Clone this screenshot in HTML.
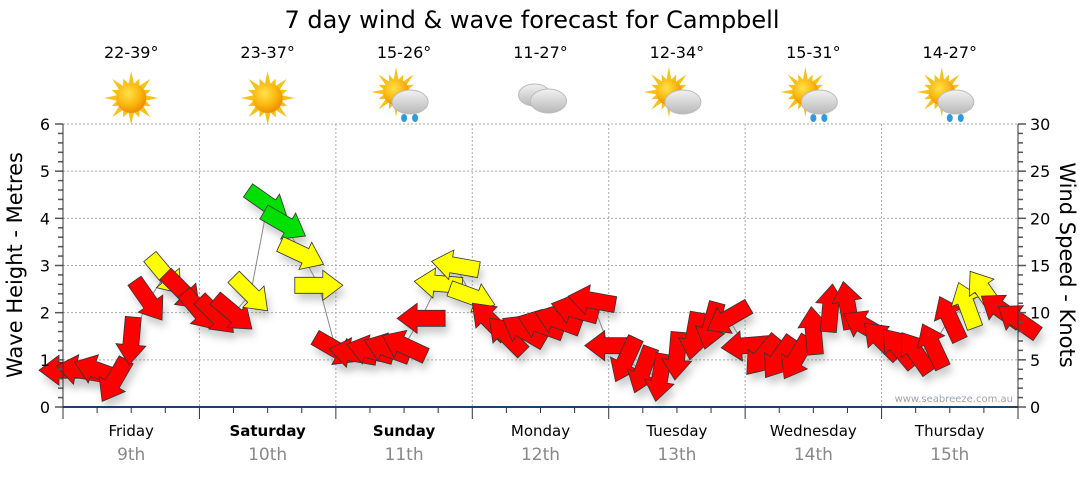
<!DOCTYPE html>
<html><head><meta charset="utf-8">
<style>
body{margin:0;background:#fff;width:1080px;height:475px;overflow:hidden;font-family:"Liberation Sans",sans-serif;}
svg text{font-family:"DejaVu Sans","Liberation Sans",sans-serif;}
</style></head>
<body>
<svg id="chart" width="1080" height="475" xmlns="http://www.w3.org/2000/svg">
<defs>
<radialGradient id="sunG" cx="40%" cy="35%" r="65%"><stop offset="0" stop-color="#ffe24a"/><stop offset="0.6" stop-color="#fbb80f"/><stop offset="1" stop-color="#f08c00"/></radialGradient>
<linearGradient id="cloudG" x1="0" y1="0" x2="0" y2="1"><stop offset="0" stop-color="#f2f2f2"/><stop offset="1" stop-color="#b8b8b8"/></linearGradient>
<filter id="sh" x="-50%" y="-50%" width="200%" height="200%"><feGaussianBlur stdDeviation="4"/></filter>
</defs>
<text x="532" y="28" font-size="24" text-anchor="middle" fill="#000">7 day wind &amp; wave forecast for Campbell</text>
<g id="grid"></g>
<g id="icons"></g>
<g id="shadows" opacity="0.3"></g>
<g id="series"></g>
<g id="axes"></g>
<text transform="translate(22,265) rotate(-90)" font-size="21" text-anchor="middle">Wave Height - Metres</text>
<text transform="translate(1060,265) rotate(90)" font-size="21" text-anchor="middle">Wind Speed - Knots</text>
<text x="1013" y="402" font-size="10" fill="#9aa3b5" text-anchor="end">www.seabreeze.com.au</text>
</svg>
<script>
const days=["Friday","Saturday","Sunday","Monday","Tuesday","Wednesday","Thursday"];
const dates=["9th","10th","11th","12th","13th","14th","15th"];
const boldDays=[false,true,true,false,false,false,false];
const temps=["22-39°","23-37°","15-26°","11-27°","12-34°","15-31°","14-27°"];
const weather=["sun","sun","sunrain","cloud","suncloud","sunrain","sunrain"];
const waveTicks=[0,1,2,3,4,5,6];
const windTicks=[0,5,10,15,20,25,30];
const hours=[0,3,6,9,12,15,18,21,24,27,30,33,36,39,42,45,48,51,54,57,60,63,66,69,72,75,78,81,84,87,90,93,96,99,102,105,108,111,114,117,120,123,126,129,132,135,138,141,144,147,150,153,156,159,162,165,168];
const windKnots=[3.9,3.9,3.9,2.8,7.0,11.3,14.0,12.3,10.2,9.7,9.9,12.0,21.5,19.4,16.2,12.9,6.1,5.7,6.0,6.2,6.5,9.4,13.1,15.0,11.7,9.2,7.6,8.1,8.7,9.2,10.3,11.3,6.5,5.0,3.9,3.1,5.4,7.5,8.6,9.4,6.5,5.4,5.2,5.2,8.1,10.5,10.8,8.6,7.1,6.3,5.8,6.5,9.4,10.8,12.3,10.3,9.2];
const windDir=[180,190,200,120,95,55,50,45,50,45,40,45,35,30,25,0,30,190,195,200,205,180,185,190,20,225,225,210,200,200,195,190,180,115,110,100,95,100,105,150,175,130,125,120,265,275,260,210,225,230,235,245,245,250,235,215,215];
const windCol=["r","r","r","r","r","r","y","r","r","r","r","y","g","g","y","y","r","r","r","r","r","r","y","y","y","r","r","r","r","r","r","r","r","r","r","r","r","r","r","r","r","r","r","r","r","r","r","r","r","r","r","r","r","y","y","r","r"];

const X0=63,X1=1018,Y0=407,Y1=124;
const xOf=h=>X0+(X1-X0)*h/168;
const yWave=m=>Y0-(Y0-Y1)*m/6;
const yWind=k=>Y0-(Y0-Y1)*k/30;
const NS="http://www.w3.org/2000/svg";
function mk(tag,attrs,parent){const e=document.createElementNS(NS,tag);for(const k in attrs)e.setAttribute(k,attrs[k]);parent.appendChild(e);return e;}
const grid=document.getElementById('grid'),axes=document.getElementById('axes'),icons=document.getElementById('icons'),series=document.getElementById('series'),shadows=document.getElementById('shadows');

waveTicks.forEach(m=>{
  if(m>0){const l=mk('line',{x1:X0,x2:X1,y1:yWave(m),y2:yWave(m),stroke:'#aaa','stroke-dasharray':'2,2'},grid);
  
  }
  const t=mk('text',{x:50,y:yWave(m)+6,'font-size':16,'text-anchor':'end'},axes);t.textContent=m;
  
  
});
windTicks.forEach(k=>{
  const t=mk('text',{x:1030,y:yWind(k)+6,'font-size':16},axes);t.textContent=k;
  
  
});
for(let i=0;i<=30;i++){const y=Y0-(Y0-Y1)*i/30;const w=i%5==0?8:5;
  mk('line',{x1:X0-w,x2:X0,y1:y,y2:y,stroke:'#555','stroke-width':1.5},axes);
  mk('line',{x1:X1,x2:X1+w,y1:y,y2:y,stroke:'#555','stroke-width':1.5},axes);}
mk('line',{x1:X0,x2:X0,y1:Y1,y2:Y0,stroke:'#333'},axes);
mk('line',{x1:X1,x2:X1,y1:Y1,y2:Y0,stroke:'#333'},axes);
mk('line',{x1:X0,x2:X1,y1:Y0,y2:Y0,stroke:'#1b3f6e','stroke-width':2},axes);
for(let h=0;h<=168;h+=6){const x=xOf(h);const big=h%24==0;
  mk('line',{x1:x,x2:x,y1:Y0,y2:Y0+(big?12:6),stroke:'#333'},axes);
  if(big&&h>0&&h<168){const l=mk('line',{x1:x,x2:x,y1:Y1,y2:Y0,stroke:'#aaa','stroke-dasharray':'2,2'},grid);
  
  }}
days.forEach((d,i)=>{
  const cx=xOf(i*24+12);
  const t=mk('text',{x:cx,y:436,'font-size':15,'text-anchor':'middle','font-weight':boldDays[i]?'bold':'normal'},axes);t.textContent=d;
  
  
  const t2=mk('text',{x:cx,y:460,'font-size':17,'text-anchor':'middle',fill:'#888'},axes);t2.textContent=dates[i];
  
  
  const t3=mk('text',{x:cx,y:58,'font-size':16,'text-anchor':'middle'},icons);t3.textContent=temps[i];
  
  
  const g=mk('g',{transform:`translate(${cx},98)`},icons);
  
  
  const w=weather[i];
  if(w!="cloud"){const sx=w=="sun"?0:-8,sy=w=="sun"?0:-6,r=w=="sun"?15:13;
    for(let a=0;a<16;a++){const ang=a*Math.PI/8,L=(a%2?r+6:r+12);
      mk('polygon',{points:`${sx+Math.cos(ang-0.18)*r},${sy+Math.sin(ang-0.18)*r} ${sx+Math.cos(ang)*L},${sy+Math.sin(ang)*L} ${sx+Math.cos(ang+0.18)*r},${sy+Math.sin(ang+0.18)*r}`,fill:'#f6c21a'},g);}
    mk('circle',{cx:sx,cy:sy,r:r,fill:'url(#sunG)'},g);}
  if(w=="cloud"){
    mk('ellipse',{cx:-6,cy:-3,rx:16,ry:11,fill:'url(#cloudG)',stroke:'#bbb'},g);
    mk('ellipse',{cx:8,cy:3,rx:18,ry:12,fill:'url(#cloudG)',stroke:'#bbb'},g);}
  if(w=="sunrain"||w=="suncloud"){
    mk('ellipse',{cx:6,cy:4,rx:18,ry:12,fill:'url(#cloudG)',stroke:'#bbb'},g);
    if(w=="sunrain"){mk('ellipse',{cx:0,cy:20,rx:3,ry:4,fill:'#2e9be0'},g);mk('ellipse',{cx:11,cy:20,rx:3,ry:4,fill:'#2e9be0'},g);}}
});

const cols={r:'#ff0000',y:'#ffff00',g:'#00e000'};
let pts=hours.map((h,i)=>xOf(h)+','+yWind(windKnots[i])).join(' ');
const pl=mk('polyline',{points:pts,fill:'none',stroke:'#888','stroke-width':1},series);


const shape="-24,-8 4,-8 4,-15 24,0 4,15 4,8 -24,8";
hours.forEach((h,i)=>{
  const x=xOf(h),y=yWind(windKnots[i]);
  const s=mk('polygon',{points:shape,fill:'#555',filter:'url(#sh)',transform:`translate(${x+3},${y+7}) rotate(${windDir[i]})`},shadows);
  
  
  const a=mk('polygon',{points:shape,fill:cols[windCol[i]],stroke:'#333','stroke-width':0.8,transform:`translate(${x},${y}) rotate(${windDir[i]})`},series);
  
  
});
</script>
</body></html>
